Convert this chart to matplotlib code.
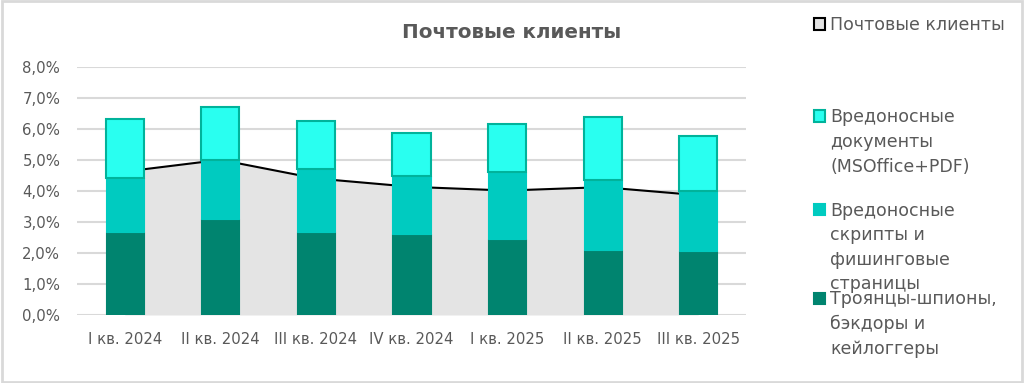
import matplotlib
matplotlib.use("Agg")
import matplotlib.pyplot as plt
from matplotlib.patches import Rectangle
from matplotlib.ticker import FuncFormatter

quarters = ["I кв. 2024", "II кв. 2024", "III кв. 2024", "IV кв. 2024",
            "I кв. 2025", "II кв. 2025", "III кв. 2025"]
trojans = [2.68, 3.09, 2.68, 2.62, 2.44, 2.09, 2.05]
scripts = [1.72, 1.90, 2.01, 1.86, 2.16, 2.26, 1.95]
documents = [1.92, 1.72, 1.55, 1.39, 1.56, 2.03, 1.78]
mail_clients = [4.62, 5.0, 4.40, 4.13, 4.01, 4.12, 3.86]

legend_labels = ["Почтовые клиенты",
                 "Вредоносные\nдокументы\n(MSOffice+PDF)",
                 "Вредоносные\nскрипты и\nфишинговые\nстраницы",
                 "Троянцы-шпионы,\nбэкдоры и\nкейлоггеры"]

plt.rcParams['font.family'] = ['DejaVu Sans']
grey = '#595959'
c_area = '#e4e4e4'
c_doc = '#29fff0'
c_doc_edge = '#00b39b'
c_scr = '#00cbc0'
c_tro = '#00846f'

fig = plt.figure(figsize=(10.24, 3.83), dpi=100)
ax = fig.add_axes([0.0752, 0.1775, 0.6533, 0.6483])

x = list(range(len(quarters)))
ax.fill_between(x, mail_clients, 0, color=c_area, zorder=1, linewidth=0)
ax.plot(x, mail_clients, color='black', linewidth=1.5, zorder=2)

w = 0.4
ax.bar(x, trojans, w, color=c_tro, edgecolor=c_tro, linewidth=0.8, zorder=3)
ax.bar(x, scripts, w, bottom=trojans, color=c_scr, edgecolor=c_scr, linewidth=0.8, zorder=3)
bottoms = [a + b for a, b in zip(trojans, scripts)]
ax.bar(x, documents, w, bottom=bottoms, color=c_doc, edgecolor=c_doc_edge, linewidth=1.5, zorder=4)

ax.set_xlim(-0.5, len(quarters) - 0.5)
ax.set_ylim(0, 8)
ax.set_yticks(range(0, 9))
ax.yaxis.set_major_formatter(FuncFormatter(lambda v, p: f"{v:.1f}%".replace('.', ',')))
ax.set_xticks(x)
ax.set_xticklabels(quarters)
ax.grid(axis='y', color='#d9d9d9', linewidth=1.5, zorder=0)
ax.set_axisbelow(True)
for s in ax.spines.values():
    s.set_visible(False)
ax.tick_params(axis='both', length=0, labelsize=10.7, colors=grey, pad=12)
ax.tick_params(axis='x', pad=12)

fig.text(0.5, 0.915, "Почтовые клиенты", ha='center', va='center',
         fontsize=14.3, fontweight='bold', color=grey)

# legend drawn by hand to copy the uneven spacing (y = first baseline, px from top)
leg_base = [30, 122, 215, 304]
leg_fc = [c_area, c_doc, c_scr, c_tro]
leg_ec = ['black', c_doc_edge, c_scr, c_tro]
for yy, lab, fc, ec in zip(leg_base, legend_labels, leg_fc, leg_ec):
    fig.add_artist(Rectangle((814 / 1024, 1 - (yy - 0.5) / 383), 11 / 1024, 11 / 383,
                             transform=fig.transFigure, facecolor=fc, edgecolor=ec,
                             linewidth=1.5))
    fig.text(830 / 1024, 1 - (yy - 13.5) / 383, lab, ha='left', va='top',
             fontsize=12.5, color=grey, linespacing=1.47)

fig.add_artist(Rectangle((0.002, 0.003), 0.996, 0.994, transform=fig.transFigure,
                         facecolor='none', edgecolor='#d9d9d9', linewidth=2))

fig.savefig("out.png", dpi=100)
